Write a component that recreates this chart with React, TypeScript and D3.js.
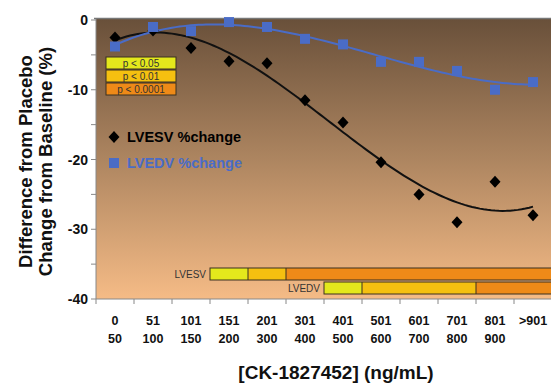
import React from 'react';
import * as d3 from 'd3';

// concentration bins
const binLow = ['0', '51', '101', '151', '201', '301', '401', '501', '601', '701', '801', '>901'];
const binHigh = ['50', '100', '150', '200', '300', '400', '500', '600', '700', '800', '900', ''];

// % change, difference from placebo
const lvesv = [-2.5, -1.5, -4.0, -5.9, -6.2, -11.5, -14.7, -20.4, -25.0, -29.0, -23.2, -28.0];
const lvedv = [-3.8, -1.0, -1.6, -0.3, -1.0, -2.7, -3.5, -6.0, -6.0, -7.3, -10.0, -8.9];

// significance per bin (0 = none, 1 = p<0.05, 2 = p<0.01, 3 = p<0.0001)
const lvesvSig = [0, 0, 0, 1, 2, 3, 3, 3, 3, 3, 3, 3];
const lvedvSig = [0, 0, 0, 0, 0, 0, 1, 2, 2, 2, 3, 3];

const sigLabels = ['p < 0.05', 'p < 0.01', 'p < 0.0001'];
const sigColors = ['#e4e81c', '#f5c010', '#ee8a18'];

const yTicks = [0, -10, -20, -30, -40];
const yMinor = [-5, -15, -25, -35];

const W = 551;
const H = 392;
const left = 96;
const top = 20;
const bottom = 299;
const FONT = '"Liberation Sans", Arial, sans-serif';

// least squares polynomial, like a spreadsheet trendline
function polyfit(xs: number[], ys: number[], order: number) {
  const n = order + 1;
  const A: number[][] = [];
  for (let r = 0; r < n; r++) {
    const row: number[] = [];
    for (let c = 0; c < n; c++) row.push(d3.sum(xs, x => Math.pow(x, r + c)));
    row.push(d3.sum(xs, (x, i) => ys[i] * Math.pow(x, r)));
    A.push(row);
  }
  for (let i = 0; i < n; i++) {
    let p = i;
    for (let k = i + 1; k < n; k++) if (Math.abs(A[k][i]) > Math.abs(A[p][i])) p = k;
    [A[i], A[p]] = [A[p], A[i]];
    for (let k = i + 1; k < n; k++) {
      const f = A[k][i] / A[i][i];
      for (let c = i; c <= n; c++) A[k][c] -= f * A[i][c];
    }
  }
  const coef = new Array(n).fill(0);
  for (let i = n - 1; i >= 0; i--) {
    let s = A[i][n];
    for (let c = i + 1; c < n; c++) s -= A[i][c] * coef[c];
    coef[i] = s / A[i][i];
  }
  return (x: number) => coef.reduce((acc, c, i) => acc + c * Math.pow(x, i), 0);
}

// wide diamond marker
const diamond = 'M0,-6L5.5,0L0,6L-5.5,0Z';

const App = () => {
  const x = d3.scaleBand<number>().domain(d3.range(binLow.length)).range([left, left + 38 * 12]).padding(0);
  const y = d3.scaleLinear().domain([-40, 0]).range([bottom, top]);
  const cx = (i: number) => (x(i) as number) + x.bandwidth() / 2;
  const xi = d3.scaleLinear().domain([0, 1]).range([cx(0), cx(1)]);

  const idx = d3.range(binLow.length);
  const fitS = polyfit(idx, lvesv, 3);
  const fitD = polyfit(idx, lvedv, 3);
  const samples = d3.range(0, 11.001, 0.1);
  const lineS = d3.line<number>().x(t => xi(t)).y(t => y(fitS(t)));
  const lineD = d3.line<number>().x(t => xi(t)).y(t => y(fitD(t)));

  const sigBar = (sig: number[], yTop: number, label: string) => {
    const first = sig.findIndex(s => s > 0);
    return (
      <g>
        <text x={(x(first) as number) - 4} y={yTop + 10} textAnchor="end" fontSize={10} fill="#333">{label}</text>
        {sig.map((s, i) => s > 0 && (
          <rect key={i} x={x(i)} y={yTop} width={x.bandwidth()} height={12} fill={sigColors[s - 1]} />
        ))}
        {sig.map((s, i) => s > 0 && i > first && s !== sig[i - 1] && (
          <line key={'d' + i} x1={x(i)} x2={x(i)} y1={yTop} y2={yTop + 12} stroke="#3a3020" strokeWidth={1} />
        ))}
        <rect x={x(first)} y={yTop} width={W - (x(first) as number) + 5} height={12} fill="none" stroke="#3a3020" strokeWidth={1} />
      </g>
    );
  };

  return (
    <svg width={W} height={H} style={{ position: 'absolute', left: 0, top: 0, fontFamily: FONT }}>
      <defs>
        <linearGradient id="bg" x1="0" y1="0" x2="0" y2="1">
          <stop offset="0%" stopColor="#69503a" />
          <stop offset="50%" stopColor="#ad8560" />
          <stop offset="100%" stopColor="#f5bb86" />
        </linearGradient>
      </defs>
      <rect width={W} height={H} fill="#fff" />
      <rect x={left} y={top - 1} width={W - left + 5} height={bottom - top + 1} fill="url(#bg)" />
      <line x1={left - 2} x2={W} y1={top - 1.5} y2={top - 1.5} stroke="#777" strokeWidth={1.5} />

      {/* y axis */}
      <line x1={left} x2={left} y1={top - 1} y2={bottom} stroke="#888" />
      {yTicks.concat(yMinor).map(t => (
        <line key={t} x1={left - 5} x2={left} y1={y(t)} y2={y(t)} stroke="#888" />
      ))}
      {yTicks.map(t => (
        <text key={t} x={left - 8} y={y(t) + 5} textAnchor="end" fontSize={14} fontWeight="bold" fill="#111">{t}</text>
      ))}
      <g transform={`translate(32,${(top + bottom) / 2 + 2}) rotate(-90)`}>
        <text textAnchor="middle" fontSize={18.5} fontWeight="bold" fill="#111">Difference from Placebo</text>
        <text y={20} textAnchor="middle" fontSize={18.5} fontWeight="bold" fill="#111">Change from Baseline (%)</text>
      </g>

      {/* x axis */}
      <line x1={left} x2={W} y1={bottom} y2={bottom} stroke="#888" />
      {idx.map(i => (
        <line key={i} x1={x(i)} x2={x(i)} y1={bottom} y2={bottom + 5} stroke="#888" />
      ))}
      {idx.map(i => (
        <g key={i} fontSize={12.5} fontWeight="bold" fill="#111" textAnchor="middle">
          <text x={cx(i)} y={325}>{binLow[i]}</text>
          <text x={cx(i)} y={343}>{binHigh[i]}</text>
        </g>
      ))}
      <text x={336} y={379} textAnchor="middle" fontSize={19} fontWeight="bold" fill="#111">[CK-1827452] (ng/mL)</text>

      {/* significance key */}
      {sigLabels.map((l, i) => (
        <g key={l}>
          <rect x={106} y={57 + i * 13} width={70} height={12} fill={sigColors[i]} stroke="#3a3020" strokeWidth={1} />
          <text x={141} y={66.5 + i * 13} textAnchor="middle" fontSize={10} fill="#333">{l}</text>
        </g>
      ))}

      {/* series legend */}
      <path d={diamond} transform="translate(114,137)" fill="#000" />
      <text x={127} y={142} fontSize={14.5} fontWeight="bold" fill="#000">LVESV %change</text>
      <rect x={109} y={158} width={10} height={10} fill="#4a6cc6" />
      <text x={127} y={168} fontSize={14.5} fontWeight="bold" fill="#4a6cc6">LVEDV %change</text>

      {/* significance bars */}
      {sigBar(lvesvSig, 268, 'LVESV')}
      {sigBar(lvedvSig, 282, 'LVEDV')}

      {/* trend lines */}
      <path d={lineS(samples) as string} fill="none" stroke="#111" strokeWidth={2} />
      <path d={lineD(samples) as string} fill="none" stroke="#4a6cc6" strokeWidth={2} />

      {/* points */}
      {lvesv.map((v, i) => (
        <path key={i} d={diamond} transform={`translate(${cx(i)},${y(v)})`} fill="#000" />
      ))}
      {lvedv.map((v, i) => (
        <rect key={i} x={cx(i) - 5} y={y(v) - 5} width={10} height={10} fill="#4a6cc6" />
      ))}
    </svg>
  );
};

export default App;
